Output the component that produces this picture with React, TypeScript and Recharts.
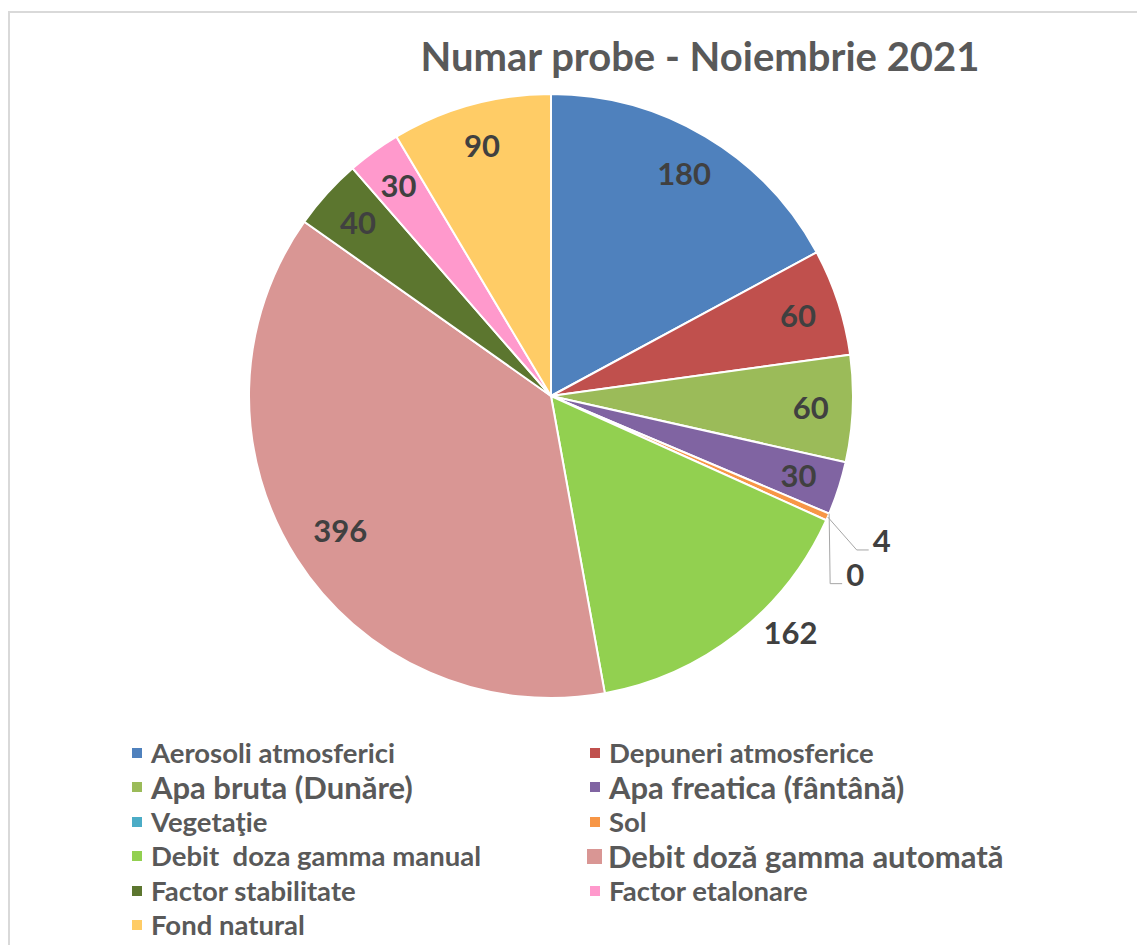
import { PieChart, Pie, Cell, Legend } from "recharts";

const categories = [
  "Aerosoli atmosferici",
  "Depuneri atmosferice",
  "Apa bruta (Dunăre)",
  "Apa freatica (fântână)",
  "Vegetaţie",
  "Sol",
  "Debit  doza gamma manual",
  "Debit doză gamma automată",
  "Factor stabilitate",
  "Factor etalonare",
  "Fond natural",
];
const values = [180, 60, 60, 30, 0, 4, 162, 396, 40, 30, 90];

const COLORS = [
  "#4f81bd",
  "#c0504d",
  "#9bbb59",
  "#8064a2",
  "#4bacc6",
  "#f79646",
  "#92d050",
  "#d99694",
  "#5c762f",
  "#ff99cc",
  "#ffcc66",
];

const data = categories.map((name, i) => ({ name, value: values[i] }));

const FONT = "Lato, 'Open Sans', sans-serif";
const RADIAN = Math.PI / 180;
// legend entries that Excel drew a bit bigger
const BIG = [2, 3, 7];

const renderLabel = (props: any) => {
  const { cx, cy, midAngle, outerRadius, index, value } = props;
  const style = { fontFamily: FONT, fontWeight: 700, fontSize: 31, fill: "#404040" };

  if (index === 4 || index === 5) {
    // tiny slices: label pulled out with a leader line
    const sx = cx + outerRadius * Math.cos(-midAngle * RADIAN);
    const sy = cy + outerRadius * Math.sin(-midAngle * RADIAN);
    const ex = index === 5 ? sx + 29 : sx + 1;
    const ey = index === 5 ? sy + 33 : sy + 70;
    const tx = ex + 12;
    return (
      <g key={`lbl-${index}`}>
        <polyline
          points={`${sx},${sy} ${ex},${ey} ${tx},${ey}`}
          stroke="#a6a6a6"
          strokeWidth={1}
          fill="none"
        />
        <text x={tx + 13} y={ey - 10} textAnchor="middle" dominantBaseline="central" {...style}>
          {value}
        </text>
      </g>
    );
  }

  let r = outerRadius - 42;
  let a = midAngle;
  if (index === 6) {
    // best-fit: outside the slice, a bit up
    r = outerRadius + 34;
    a = midAngle + 7.5;
  }
  if (index === 7) r = outerRadius - 52;
  return (
    <text
      key={`lbl-${index}`}
      x={cx + r * Math.cos(-a * RADIAN)}
      y={cy + r * Math.sin(-a * RADIAN)}
      textAnchor="middle"
      dominantBaseline="central"
      {...style}
    >
      {value}
    </text>
  );
};

const renderLegend = () => (
  <div style={{ position: "relative", width: 1137, height: 0 }}>
    {categories.map((c, i) => {
      const row = Math.floor(i / 2);
      const col = i % 2;
      const big = BIG.includes(i);
      const sq = i === 7 ? 15 : 10;
      return (
        <div
          key={c}
          style={{
            position: "absolute",
            left: col ? (i === 7 ? 579 : 582) : 124,
            top: row * 34.4,
            height: 0,
            display: "flex",
            alignItems: "center",
            whiteSpace: "pre",
          }}
        >
          <span
            style={{
              width: sq,
              height: sq,
              background: COLORS[i],
              marginRight: i === 7 ? 6 : 9,
              display: "inline-block",
            }}
          />
          <span
            style={{
              fontFamily: FONT,
              fontWeight: 700,
              fontSize: big ? 31 : 27.5,
              color: "#595959",
              lineHeight: 1,
            }}
          >
            {c}
          </span>
        </div>
      );
    })}
  </div>
);

export default function App() {
  return (
    <div style={{ position: "relative", width: 1137, height: 937, overflow: "hidden" }}>
      <div
        style={{
          position: "absolute",
          left: 0,
          top: 3,
          right: 0,
          bottom: 0,
          borderTop: "2px solid #d9d9d9",
          borderLeft: "2px solid #d9d9d9",
        }}
      />
      <div
        style={{
          position: "absolute",
          left: 292,
          width: 800,
          top: 28,
          textAlign: "center",
          fontFamily: FONT,
          fontWeight: 700,
          fontSize: 40,
          lineHeight: 1,
          color: "#595959",
        }}
      >
        Numar probe - Noiembrie 2021
      </div>
      <PieChart width={1137} height={937} margin={{ top: 0, right: 0, bottom: 0, left: 0 }}>
        <Pie
          data={data}
          dataKey="value"
          nameKey="name"
          cx={543}
          cy={388}
          outerRadius={302}
          startAngle={90}
          endAngle={-270}
          stroke="#ffffff"
          strokeWidth={2}
          label={renderLabel}
          labelLine={false}
          isAnimationActive={false}
        >
          {data.map((d, i) => (
            <Cell key={d.name} fill={COLORS[i]} />
          ))}
        </Pie>
        <Legend
          content={renderLegend}
          wrapperStyle={{ top: 745, left: 0, width: 1137 }}
        />
      </PieChart>
    </div>
  );
}
